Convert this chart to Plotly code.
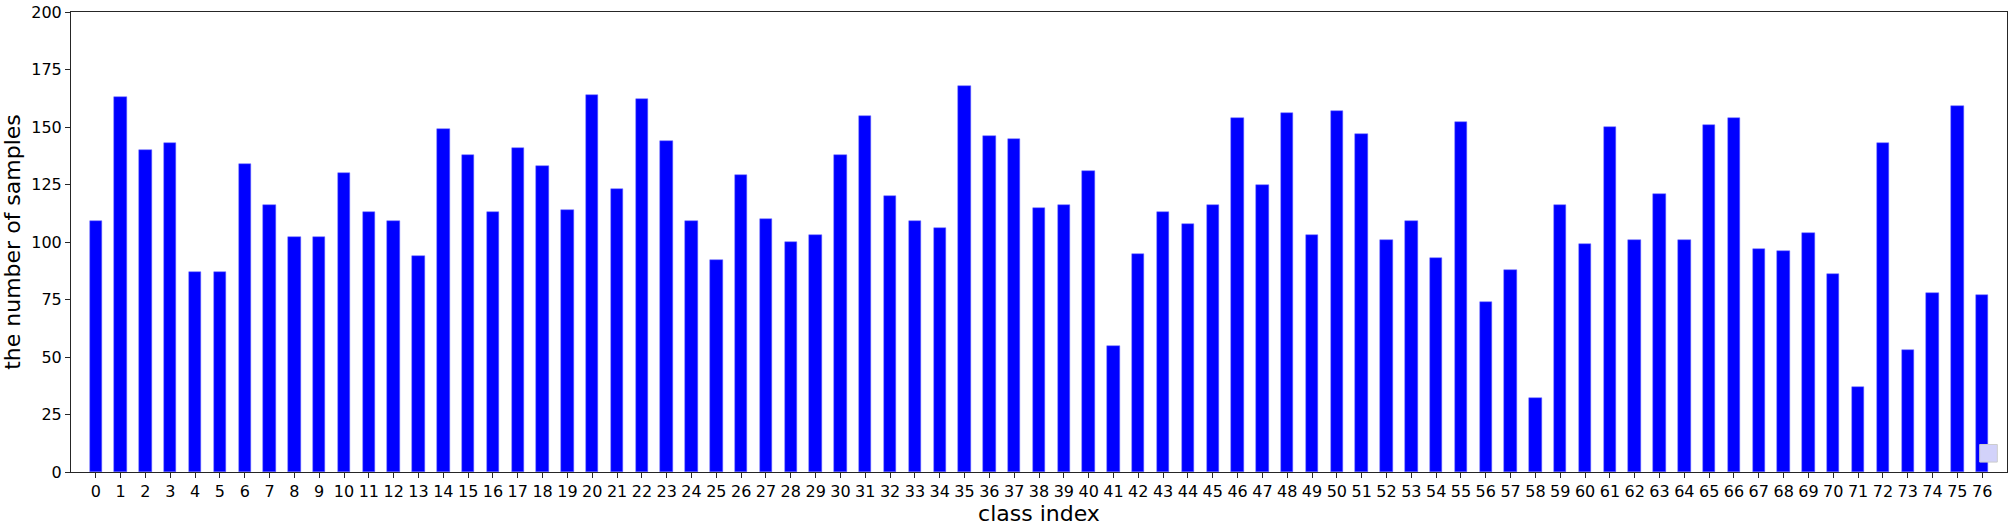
"""
Class distribution bar chart: number of samples per class index.
"""

import plotly.graph_objects as go

# ── Data ─────────────────────────────────────────────────────────────────────
class_index = list(range(77))
sample_counts = [
    109, 163, 140, 143, 87, 87, 134, 116, 102, 102,
    130, 113, 109, 94, 149, 138, 113, 141, 133, 114,
    164, 123, 162, 144, 109, 92, 129, 110, 100, 103,
    138, 155, 120, 109, 106, 168, 146, 145, 115, 116,
    131, 55, 95, 113, 108, 116, 154, 125, 156, 103,
    157, 147, 101, 109, 93, 152, 74, 88, 32, 116,
    99, 150, 101, 121, 101, 151, 154, 97, 96, 104,
    86, 37, 143, 53, 78, 159, 77,
]
y_ticks = [0, 25, 50, 75, 100, 125, 150, 175, 200]

FONT = "DejaVu Sans, sans-serif"
SPINE = "#262626"

fig = go.Figure(go.Bar(
    x=class_index,
    y=sample_counts,
    width=0.5,
    marker=dict(color="#0000ff", line=dict(color="#6666ff", width=0.5)),
    hovertemplate="class %{x}: %{y}<extra></extra>",
))

axis_common = dict(
    showgrid=False,
    zeroline=False,
    showline=True,
    linecolor=SPINE,
    linewidth=1,
    mirror=True,
    ticks="outside",
    ticklen=5,
    tickwidth=1,
    tickcolor=SPINE,
    ticklabeloverflow="allow",
    tickfont=dict(family=FONT, size=16, color="black"),
)

fig.update_layout(
    width=2011,
    height=527,
    paper_bgcolor="white",
    plot_bgcolor="white",
    font=dict(family=FONT, color="black"),
    margin=dict(l=71, r=3, t=9, b=55),
    showlegend=False,
    bargap=0,
    xaxis=dict(
        **axis_common,
        range=[-1, 77],
        tickmode="array",
        tickvals=class_index,
        ticktext=[str(i) for i in class_index],
        title=dict(text="class index", font=dict(family=FONT, size=22), standoff=0),
    ),
    yaxis=dict(
        **axis_common,
        range=[0, 200],
        tickmode="array",
        tickvals=y_ticks,
        ticktext=[str(v) for v in y_ticks],
        title=dict(text="the number of samples", font=dict(family=FONT, size=22), standoff=6),
    ),
)

# empty legend box in the lower-right corner (as in the original figure)
fig.add_shape(
    type="rect", xref="paper", yref="paper",
    x0=0.9859, x1=0.995, y0=0.0216, y1=0.0598,
    fillcolor="rgb(210,210,250)",
    line=dict(color="#cccccc", width=1),
    layer="above",
)

# drop the default page margin so the figure sits flush in the window
fig.write_html(
    "out.html",
    config={"displayModeBar": False},
    post_script="document.body.style.margin='0';",
)
